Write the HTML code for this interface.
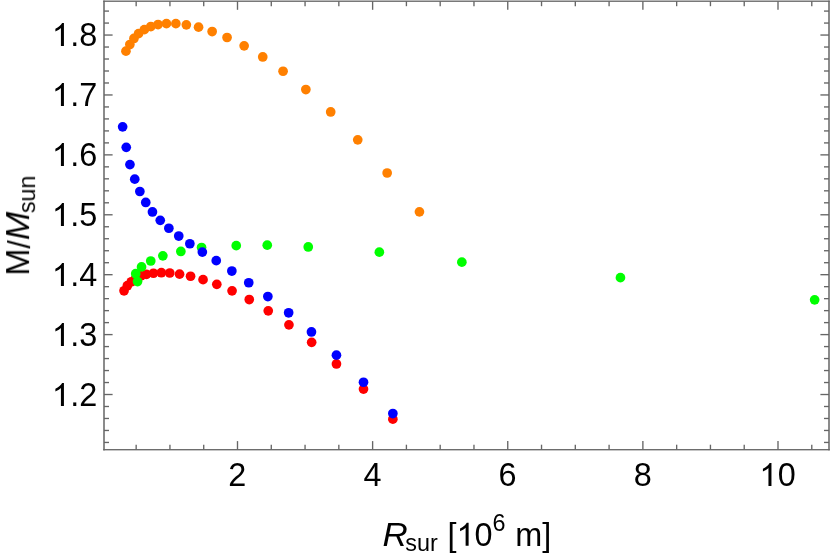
<!DOCTYPE html>
<html><head><meta charset="utf-8"><title>M/Msun vs Rsur</title>
<style>
html,body{margin:0;padding:0;background:#ffffff;}
body{width:830px;height:554px;overflow:hidden;font-family:"Liberation Sans",sans-serif;}
svg{display:block;position:absolute;left:0;top:0;}
text{font-family:"Liberation Sans",sans-serif;fill:#000000;}
.t{font-size:32.4px;}
.s{font-size:23.4px;}
.i{font-style:italic;}
</style></head><body>
<svg width="830" height="554" viewBox="0 0 830 554">
<rect x="0" y="0" width="830" height="554" fill="#ffffff"/>
<g fill="#ff8000">
<circle cx="125.95" cy="51.15" r="4.85"/>
<circle cx="129.85" cy="44.55" r="4.85"/>
<circle cx="133.95" cy="38.45" r="4.85"/>
<circle cx="138.55" cy="33.65" r="4.85"/>
<circle cx="144.35" cy="29.65" r="4.85"/>
<circle cx="150.85" cy="26.55" r="4.85"/>
<circle cx="158.05" cy="24.55" r="4.85"/>
<circle cx="166.45" cy="23.65" r="4.85"/>
<circle cx="175.85" cy="23.65" r="4.85"/>
<circle cx="186.35" cy="24.85" r="4.85"/>
<circle cx="198.55" cy="27.15" r="4.85"/>
<circle cx="212.15" cy="31.55" r="4.85"/>
<circle cx="227.05" cy="37.50" r="4.85"/>
<circle cx="244.15" cy="45.85" r="4.85"/>
<circle cx="262.75" cy="56.95" r="4.85"/>
<circle cx="283.05" cy="71.25" r="4.85"/>
<circle cx="305.85" cy="89.55" r="4.85"/>
<circle cx="330.70" cy="111.95" r="4.85"/>
<circle cx="357.75" cy="139.85" r="4.85"/>
<circle cx="387.15" cy="173.00" r="4.85"/>
<circle cx="419.45" cy="211.85" r="4.85"/>
</g>
<g fill="#ff0000">
<circle cx="124.05" cy="290.80" r="4.85"/>
<circle cx="127.35" cy="285.70" r="4.85"/>
<circle cx="131.35" cy="281.80" r="4.85"/>
<circle cx="135.65" cy="278.55" r="4.85"/>
<circle cx="141.05" cy="275.85" r="4.85"/>
<circle cx="146.45" cy="274.35" r="4.85"/>
<circle cx="153.45" cy="273.25" r="4.85"/>
<circle cx="161.35" cy="272.70" r="4.85"/>
<circle cx="169.75" cy="273.00" r="4.85"/>
<circle cx="179.55" cy="274.15" r="4.85"/>
<circle cx="190.55" cy="276.25" r="4.85"/>
<circle cx="203.05" cy="279.65" r="4.85"/>
<circle cx="216.80" cy="284.35" r="4.85"/>
<circle cx="232.05" cy="290.85" r="4.85"/>
<circle cx="249.25" cy="299.55" r="4.85"/>
<circle cx="268.25" cy="310.85" r="4.85"/>
<circle cx="288.95" cy="324.85" r="4.85"/>
<circle cx="311.65" cy="342.35" r="4.85"/>
<circle cx="336.45" cy="363.95" r="4.85"/>
<circle cx="363.50" cy="389.10" r="4.85"/>
<circle cx="392.85" cy="419.15" r="4.85"/>
</g>
<g fill="#00ff00">
<circle cx="137.55" cy="281.55" r="4.85"/>
<circle cx="135.75" cy="273.70" r="4.85"/>
<circle cx="141.55" cy="266.90" r="4.85"/>
<circle cx="150.75" cy="261.00" r="4.85"/>
<circle cx="162.85" cy="255.85" r="4.85"/>
<circle cx="180.85" cy="251.45" r="4.85"/>
<circle cx="201.55" cy="247.50" r="4.85"/>
<circle cx="236.25" cy="245.65" r="4.85"/>
<circle cx="267.25" cy="245.15" r="4.85"/>
<circle cx="308.25" cy="246.95" r="4.85"/>
<circle cx="379.35" cy="252.15" r="4.85"/>
<circle cx="461.85" cy="262.15" r="4.85"/>
<circle cx="620.45" cy="277.65" r="4.85"/>
<circle cx="814.65" cy="299.85" r="4.85"/>
</g>
<g fill="#0000ff">
<circle cx="122.65" cy="126.85" r="4.85"/>
<circle cx="126.25" cy="147.35" r="4.85"/>
<circle cx="129.95" cy="164.60" r="4.85"/>
<circle cx="134.75" cy="179.15" r="4.85"/>
<circle cx="139.85" cy="191.50" r="4.85"/>
<circle cx="145.75" cy="202.45" r="4.85"/>
<circle cx="152.45" cy="211.95" r="4.85"/>
<circle cx="160.25" cy="220.35" r="4.85"/>
<circle cx="168.85" cy="228.25" r="4.85"/>
<circle cx="178.75" cy="236.05" r="4.85"/>
<circle cx="189.85" cy="243.75" r="4.85"/>
<circle cx="202.35" cy="252.10" r="4.85"/>
<circle cx="216.25" cy="260.65" r="4.85"/>
<circle cx="231.85" cy="271.05" r="4.85"/>
<circle cx="248.75" cy="282.75" r="4.85"/>
<circle cx="267.85" cy="296.55" r="4.85"/>
<circle cx="288.65" cy="312.80" r="4.85"/>
<circle cx="311.45" cy="331.95" r="4.85"/>
<circle cx="336.45" cy="355.15" r="4.85"/>
<circle cx="363.50" cy="382.25" r="4.85"/>
<circle cx="392.85" cy="413.55" r="4.85"/>
</g>
<g stroke="#666666" stroke-width="1.35" fill="none">
<path d="M104.00 442.44H109.00"/>
<path d="M829.00 442.44H824.00"/>
<path d="M104.00 430.46H109.00"/>
<path d="M829.00 430.46H824.00"/>
<path d="M104.00 418.47H109.00"/>
<path d="M829.00 418.47H824.00"/>
<path d="M104.00 406.49H109.00"/>
<path d="M829.00 406.49H824.00"/>
<path d="M104.00 394.51H112.60"/>
<path d="M829.00 394.51H820.40"/>
<path d="M104.00 382.53H109.00"/>
<path d="M829.00 382.53H824.00"/>
<path d="M104.00 370.55H109.00"/>
<path d="M829.00 370.55H824.00"/>
<path d="M104.00 358.56H109.00"/>
<path d="M829.00 358.56H824.00"/>
<path d="M104.00 346.58H109.00"/>
<path d="M829.00 346.58H824.00"/>
<path d="M104.00 334.60H112.60"/>
<path d="M829.00 334.60H820.40"/>
<path d="M104.00 322.62H109.00"/>
<path d="M829.00 322.62H824.00"/>
<path d="M104.00 310.64H109.00"/>
<path d="M829.00 310.64H824.00"/>
<path d="M104.00 298.65H109.00"/>
<path d="M829.00 298.65H824.00"/>
<path d="M104.00 286.67H109.00"/>
<path d="M829.00 286.67H824.00"/>
<path d="M104.00 274.69H112.60"/>
<path d="M829.00 274.69H820.40"/>
<path d="M104.00 262.71H109.00"/>
<path d="M829.00 262.71H824.00"/>
<path d="M104.00 250.73H109.00"/>
<path d="M829.00 250.73H824.00"/>
<path d="M104.00 238.74H109.00"/>
<path d="M829.00 238.74H824.00"/>
<path d="M104.00 226.76H109.00"/>
<path d="M829.00 226.76H824.00"/>
<path d="M104.00 214.78H112.60"/>
<path d="M829.00 214.78H820.40"/>
<path d="M104.00 202.80H109.00"/>
<path d="M829.00 202.80H824.00"/>
<path d="M104.00 190.82H109.00"/>
<path d="M829.00 190.82H824.00"/>
<path d="M104.00 178.83H109.00"/>
<path d="M829.00 178.83H824.00"/>
<path d="M104.00 166.85H109.00"/>
<path d="M829.00 166.85H824.00"/>
<path d="M104.00 154.87H112.60"/>
<path d="M829.00 154.87H820.40"/>
<path d="M104.00 142.89H109.00"/>
<path d="M829.00 142.89H824.00"/>
<path d="M104.00 130.91H109.00"/>
<path d="M829.00 130.91H824.00"/>
<path d="M104.00 118.92H109.00"/>
<path d="M829.00 118.92H824.00"/>
<path d="M104.00 106.94H109.00"/>
<path d="M829.00 106.94H824.00"/>
<path d="M104.00 94.96H112.60"/>
<path d="M829.00 94.96H820.40"/>
<path d="M104.00 82.98H109.00"/>
<path d="M829.00 82.98H824.00"/>
<path d="M104.00 71.00H109.00"/>
<path d="M829.00 71.00H824.00"/>
<path d="M104.00 59.01H109.00"/>
<path d="M829.00 59.01H824.00"/>
<path d="M104.00 47.03H109.00"/>
<path d="M829.00 47.03H824.00"/>
<path d="M104.00 35.05H112.60"/>
<path d="M829.00 35.05H820.40"/>
<path d="M104.00 23.07H109.00"/>
<path d="M829.00 23.07H824.00"/>
<path d="M104.00 11.09H109.00"/>
<path d="M829.00 11.09H824.00"/>
<path d="M136.16 449.70V444.70"/>
<path d="M136.16 1.20V6.20"/>
<path d="M169.94 449.70V444.70"/>
<path d="M169.94 1.20V6.20"/>
<path d="M203.72 449.70V444.70"/>
<path d="M203.72 1.20V6.20"/>
<path d="M237.50 449.70V441.10"/>
<path d="M237.50 1.20V9.80"/>
<path d="M271.28 449.70V444.70"/>
<path d="M271.28 1.20V6.20"/>
<path d="M305.06 449.70V444.70"/>
<path d="M305.06 1.20V6.20"/>
<path d="M338.84 449.70V444.70"/>
<path d="M338.84 1.20V6.20"/>
<path d="M372.62 449.70V441.10"/>
<path d="M372.62 1.20V9.80"/>
<path d="M406.41 449.70V444.70"/>
<path d="M406.41 1.20V6.20"/>
<path d="M440.19 449.70V444.70"/>
<path d="M440.19 1.20V6.20"/>
<path d="M473.97 449.70V444.70"/>
<path d="M473.97 1.20V6.20"/>
<path d="M507.75 449.70V441.10"/>
<path d="M507.75 1.20V9.80"/>
<path d="M541.53 449.70V444.70"/>
<path d="M541.53 1.20V6.20"/>
<path d="M575.31 449.70V444.70"/>
<path d="M575.31 1.20V6.20"/>
<path d="M609.09 449.70V444.70"/>
<path d="M609.09 1.20V6.20"/>
<path d="M642.88 449.70V441.10"/>
<path d="M642.88 1.20V9.80"/>
<path d="M676.66 449.70V444.70"/>
<path d="M676.66 1.20V6.20"/>
<path d="M710.44 449.70V444.70"/>
<path d="M710.44 1.20V6.20"/>
<path d="M744.22 449.70V444.70"/>
<path d="M744.22 1.20V6.20"/>
<path d="M778.00 449.70V441.10"/>
<path d="M778.00 1.20V9.80"/>
<path d="M811.78 449.70V444.70"/>
<path d="M811.78 1.20V6.20"/>
</g>
<g fill="#666666">
<rect x="103.25" y="0.54" width="726.5" height="1.33"/>
<rect x="103.25" y="449.05" width="726.5" height="1.33"/>
<rect x="103.25" y="0.54" width="1.5" height="449.84"/>
<rect x="828.25" y="0.54" width="1.5" height="449.84"/>
</g>
<g opacity="0.999">
<path d="M763 0H573V1147Q518 1085 412.5 1023T223 930V1104Q374 1175 487 1276T647 1472H763Z" transform="translate(51.86 45.90) scale(0.01582 -0.01558)"/>
<text class="t" x="70.28" y="45.90">.8</text>
<path d="M763 0H573V1147Q518 1085 412.5 1023T223 930V1104Q374 1175 487 1276T647 1472H763Z" transform="translate(51.86 105.90) scale(0.01582 -0.01558)"/>
<text class="t" x="70.28" y="105.90">.7</text>
<path d="M763 0H573V1147Q518 1085 412.5 1023T223 930V1104Q374 1175 487 1276T647 1472H763Z" transform="translate(51.86 165.90) scale(0.01582 -0.01558)"/>
<text class="t" x="70.28" y="165.90">.6</text>
<path d="M763 0H573V1147Q518 1085 412.5 1023T223 930V1104Q374 1175 487 1276T647 1472H763Z" transform="translate(51.86 225.90) scale(0.01582 -0.01558)"/>
<text class="t" x="70.28" y="225.90">.5</text>
<path d="M763 0H573V1147Q518 1085 412.5 1023T223 930V1104Q374 1175 487 1276T647 1472H763Z" transform="translate(51.86 285.90) scale(0.01582 -0.01558)"/>
<text class="t" x="70.28" y="285.90">.4</text>
<path d="M763 0H573V1147Q518 1085 412.5 1023T223 930V1104Q374 1175 487 1276T647 1472H763Z" transform="translate(51.86 345.90) scale(0.01582 -0.01558)"/>
<text class="t" x="70.28" y="345.90">.3</text>
<path d="M763 0H573V1147Q518 1085 412.5 1023T223 930V1104Q374 1175 487 1276T647 1472H763Z" transform="translate(51.86 405.90) scale(0.01582 -0.01558)"/>
<text class="t" x="70.28" y="405.90">.2</text>
<text class="t" x="228.29" y="485.95">2</text>
<text class="t" x="363.42" y="485.95">4</text>
<text class="t" x="498.54" y="485.95">6</text>
<text class="t" x="633.67" y="485.95">8</text>
<path d="M763 0H573V1147Q518 1085 412.5 1023T223 930V1104Q374 1175 487 1276T647 1472H763Z" transform="translate(759.39 485.95) scale(0.01582 -0.01558)"/>
<text class="t" x="777.80" y="485.95">0</text>
<text class="t i" transform="translate(382.40 545.70) scale(1.08 1)" x="0" y="0">R</text>
<text class="s" x="405.20" y="550.90">sur</text>
<text class="t" x="447.55" y="545.70">[</text>
<path d="M763 0H573V1147Q518 1085 412.5 1023T223 930V1104Q374 1175 487 1276T647 1472H763Z" transform="translate(456.55 545.70) scale(0.01582 -0.01558)"/>
<text class="t" x="474.60" y="545.70">0</text>
<text class="s" x="492.50" y="530.80">6</text>
<text class="t" x="515.20" y="545.70">m]</text>
<g transform="translate(29.1 275.6) rotate(-90)">
<text class="t" x="0" y="0">M</text>
<text class="t" transform="translate(27.0 0.5) scale(0.93 0.975)" x="0" y="0">/</text>
<text class="t i" transform="translate(35.4 0) scale(1.05 1)" x="0" y="0">M</text>
<text class="s" x="62.4" y="6.3">sun</text>
</g>
</g>
</svg>
</body></html>
